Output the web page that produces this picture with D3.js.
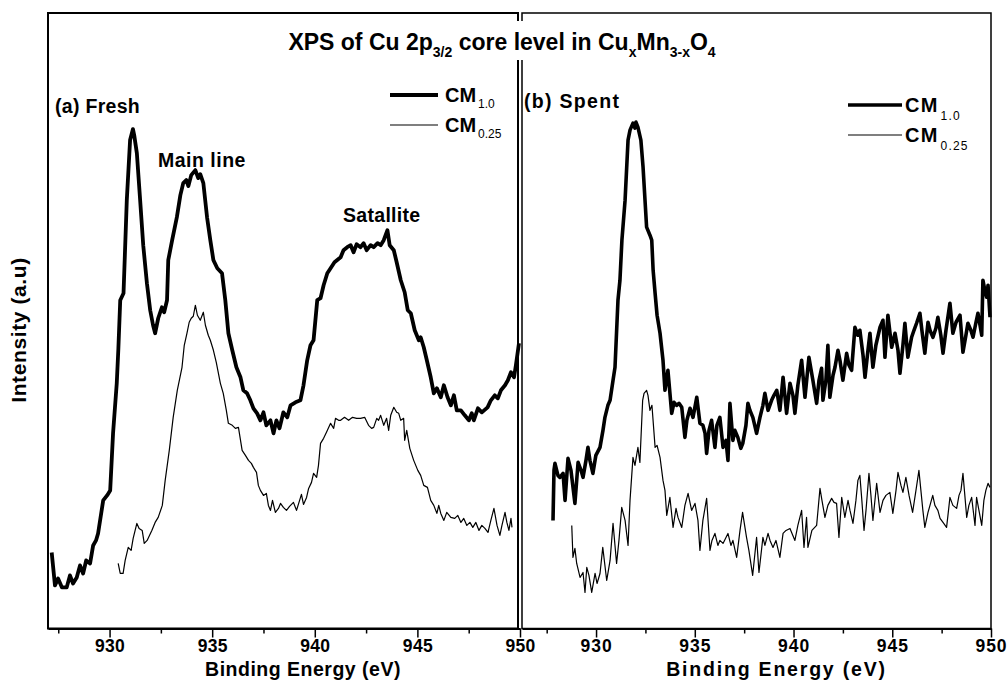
<!DOCTYPE html>
<html><head><meta charset="utf-8">
<script src="https://cdn.jsdelivr.net/npm/d3@7"></script>
<style>body{margin:0;background:#fff}svg{display:block}</style>
</head><body>
<svg id="c" width="1008" height="687"></svg>
<script>
// ---------- data (binding energy eV, intensity a.u.) ----------
const majorTicks = [930, 935, 940, 945, 950];
const minorTicks = [927.5, 932.5, 937.5, 942.5, 947.5];
const seriesNames = ["CM", "CM"];
const seriesSubs = ["1.0", "0.25"];

const freshCM10 = [[927.18,76],[927.34,43],[927.49,50],[927.68,41],[927.91,41],[928.07,53],[928.22,45],[928.40,51],[928.56,63],[928.71,55],[928.86,68],[929.05,65],[929.20,83],[929.34,88],[929.44,95],[929.69,128],[929.88,133],[930.03,138],[930.17,195],[930.35,245],[930.43,280],[930.52,328],[930.68,335],[930.84,428],[931.00,488],[931.14,499],[931.20,493],[931.33,475],[931.49,428],[931.64,383],[931.82,345],[931.98,318],[932.12,303],[932.22,295],[932.37,310],[932.55,321],[932.66,316],[932.80,328],[932.86,368],[933.05,388],[933.28,411],[933.45,433],[933.59,445],[933.74,448],[933.84,442],[933.98,453],[934.18,458],[934.32,450],[934.42,454],[934.57,445],[934.75,411],[934.91,388],[935.06,368],[935.25,360],[935.48,355],[935.64,328],[935.79,295],[935.98,278],[936.18,261],[936.38,251],[936.52,238],[936.70,235],[936.86,228],[937.01,220],[937.19,215],[937.35,208],[937.50,216],[937.64,203],[937.84,208],[937.99,195],[938.13,208],[938.28,200],[938.47,216],[938.66,211],[938.82,223],[939.06,226],[939.30,228],[939.45,243],[939.63,268],[939.79,283],[939.94,288],[940.12,328],[940.28,330],[940.43,343],[940.61,355],[940.77,360],[940.96,366],[941.26,371],[941.40,378],[941.58,381],[941.75,383],[941.89,376],[942.04,384],[942.23,381],[942.38,385],[942.53,378],[942.72,383],[942.87,381],[943.06,385],[943.21,383],[943.36,388],[943.54,398],[943.65,383],[943.85,378],[943.99,366],[944.19,348],[944.38,336],[944.53,318],[944.68,315],[944.87,298],[945.07,288],[945.16,291],[945.31,281],[945.46,268],[945.65,251],[945.80,235],[945.95,240],[946.14,231],[946.29,243],[946.47,231],[946.63,223],[946.78,233],[946.92,218],[947.12,218],[947.31,213],[947.51,208],[947.65,215],[947.75,208],[947.95,220],[948.14,216],[948.42,221],[948.58,228],[948.77,233],[948.92,230],[949.07,238],[949.27,243],[949.41,248],[949.56,256],[949.71,251],[949.80,263],[949.95,285]];

const freshCM025 = [[930.42,65],[930.52,55],[930.66,55],[930.76,68],[930.91,81],[931.05,78],[931.15,90],[931.33,105],[931.44,100],[931.59,98],[931.69,85],[931.83,88],[932.06,98],[932.22,106],[932.37,111],[932.57,123],[932.71,148],[932.91,178],[933.10,211],[933.30,238],[933.53,261],[933.64,283],[933.77,295],[933.88,306],[933.98,310],[934.08,312],[934.18,323],[934.28,313],[934.42,308],[934.57,316],[934.67,303],[934.81,293],[934.91,288],[935.06,278],[935.20,266],[935.40,245],[935.54,235],[935.69,218],[935.79,205],[935.98,203],[936.13,200],[936.28,201],[936.46,178],[936.62,173],[936.77,168],[936.91,165],[937.01,161],[937.16,156],[937.25,143],[937.35,138],[937.50,133],[937.64,135],[937.74,123],[937.84,118],[937.94,128],[938.08,116],[938.23,120],[938.33,125],[938.47,121],[938.62,118],[938.77,122],[938.96,126],[939.11,118],[939.26,128],[939.35,134],[939.45,124],[939.60,131],[939.70,140],[939.84,146],[939.94,155],[940.09,151],[940.18,163],[940.28,185],[940.43,190],[940.57,196],[940.77,205],[940.92,200],[941.01,210],[941.16,208],[941.26,208],[941.45,211],[941.65,208],[941.84,211],[942.04,210],[942.23,210],[942.43,211],[942.62,203],[942.77,200],[942.87,201],[943.02,210],[943.11,208],[943.21,213],[943.36,203],[943.50,210],[943.60,198],[943.70,213],[943.85,221],[943.99,216],[944.09,215],[944.19,208],[944.33,210],[944.38,188],[944.48,198],[944.63,180],[944.82,168],[945.02,158],[945.16,153],[945.31,143],[945.49,141],[945.65,128],[945.80,123],[945.95,115],[946.04,123],[946.14,115],[946.29,108],[946.43,116],[946.63,111],[946.82,110],[946.97,113],[947.12,106],[947.26,110],[947.41,103],[947.56,106],[947.70,101],[947.85,106],[948.00,98],[948.14,103],[948.29,100],[948.44,96],[948.58,108],[948.73,120],[948.88,103],[949.02,93],[949.12,103],[949.27,116],[949.36,106],[949.46,98],[949.56,110],[949.61,101]];

const spentCM10 = [[927.82,108],[927.87,158],[927.92,165],[928.07,153],[928.17,151],[928.33,155],[928.43,128],[928.58,170],[928.73,158],[928.93,125],[929.09,166],[929.24,158],[929.34,151],[929.49,168],[929.59,181],[929.69,168],[929.84,155],[929.99,173],[930.20,181],[930.35,198],[930.45,211],[930.60,223],[930.71,228],[930.86,248],[930.96,261],[931.11,328],[931.21,348],[931.31,388],[931.47,428],[931.62,488],[931.72,498],[931.87,505],[931.97,500],[932.02,506],[932.12,501],[932.27,488],[932.38,461],[932.56,401],[932.73,393],[932.82,388],[932.89,358],[932.99,335],[933.09,313],[933.24,295],[933.39,268],[933.49,238],[933.64,258],[933.83,215],[933.95,226],[934.08,223],[934.20,225],[934.34,221],[934.50,191],[934.60,208],[934.76,220],[934.91,211],[935.10,231],[935.26,205],[935.41,203],[935.52,195],[935.60,175],[935.72,198],[935.85,208],[936.02,181],[936.12,203],[936.27,211],[936.43,181],[936.58,188],[936.68,168],[936.78,225],[936.93,188],[937.03,198],[937.18,191],[937.33,180],[937.43,185],[937.59,203],[937.69,225],[937.79,218],[937.94,211],[938.13,195],[938.30,211],[938.45,223],[938.55,235],[938.71,218],[938.89,228],[939.01,233],[939.15,238],[939.31,218],[939.47,251],[939.65,215],[939.82,245],[939.97,233],[940.07,215],[940.22,243],[940.41,268],[940.58,231],[940.78,271],[940.98,248],[941.17,225],[941.29,248],[941.42,260],[941.49,228],[941.64,248],[941.74,283],[941.84,231],[942.00,253],[942.10,261],[942.25,278],[942.35,268],[942.50,248],[942.69,275],[942.81,263],[942.94,258],[943.11,301],[943.26,293],[943.36,298],[943.52,273],[943.62,251],[943.77,278],[943.87,295],[944.02,261],[944.17,283],[944.38,301],[944.53,308],[944.63,271],[944.78,313],[944.97,281],[945.14,295],[945.29,278],[945.39,255],[945.54,283],[945.64,305],[945.79,271],[945.98,291],[946.10,298],[946.23,305],[946.40,315],[946.50,298],[946.65,275],[946.81,306],[946.91,298],[947.06,291],[947.21,300],[947.31,311],[947.46,293],[947.57,275],[947.72,298],[947.92,325],[948.07,295],[948.23,306],[948.43,313],[948.58,276],[948.73,293],[948.83,305],[948.98,298],[949.09,291],[949.24,306],[949.34,315],[949.53,293],[949.59,348],[949.69,338],[949.78,331],[949.85,343],[949.95,311]];

const spentCM025 = [[928.77,103],[928.83,71],[928.93,80],[929.02,65],[929.19,51],[929.34,56],[929.44,36],[929.53,61],[929.64,53],[929.78,36],[929.95,55],[930.05,45],[930.20,55],[930.34,81],[930.54,48],[930.71,68],[930.86,105],[931.04,65],[931.16,88],[931.30,121],[931.47,108],[931.62,83],[931.72,128],[931.87,171],[931.97,163],[932.12,181],[932.22,166],[932.36,228],[932.43,235],[932.56,238],[932.63,233],[932.73,218],[932.83,223],[932.99,181],[933.09,183],[933.24,171],[933.39,148],[933.49,138],[933.58,113],[933.74,131],[933.90,101],[934.05,120],[934.15,111],[934.34,101],[934.50,123],[934.66,135],[934.84,118],[935.01,125],[935.16,108],[935.26,78],[935.41,108],[935.60,130],[935.77,78],[935.87,88],[936.02,95],[936.17,83],[936.27,88],[936.43,85],[936.58,91],[936.68,95],[936.83,83],[936.93,88],[937.12,71],[937.29,98],[937.42,116],[937.62,91],[937.74,78],[937.93,53],[938.13,91],[938.25,56],[938.45,91],[938.55,83],[938.71,95],[938.81,88],[938.96,81],[939.11,88],[939.31,71],[939.47,95],[939.62,98],[939.82,100],[940.07,88],[940.22,103],[940.41,118],[940.53,81],[940.66,111],[940.73,81],[940.93,98],[941.17,103],[941.34,140],[941.44,128],[941.59,111],[941.74,123],[941.93,130],[942.05,126],[942.18,125],[942.30,91],[942.44,131],[942.60,111],[942.76,128],[942.86,118],[943.01,105],[943.16,128],[943.26,148],[943.36,153],[943.46,128],[943.57,98],[943.67,118],[943.82,155],[943.92,133],[944.02,108],[944.21,145],[944.38,116],[944.53,128],[944.68,133],[944.88,136],[945.03,115],[945.19,138],[945.29,156],[945.44,143],[945.54,136],[945.69,151],[945.85,133],[946.03,116],[946.20,138],[946.35,158],[946.45,138],[946.55,118],[946.65,101],[946.81,116],[946.91,123],[947.05,133],[947.16,123],[947.31,118],[947.42,110],[947.57,106],[947.75,101],[947.82,113],[947.92,131],[948.07,123],[948.26,120],[948.38,133],[948.48,138],[948.58,155],[948.77,111],[948.88,123],[949.02,131],[949.19,103],[949.27,131],[949.39,118],[949.53,103],[949.64,128],[949.74,138],[949.85,145],[949.95,141]];

// ---------- drawing ----------
const FONT = "'Liberation Sans', Arial, Helvetica, sans-serif";
const svg = d3.select("#c");
const yTop = 13, yBot = 628.5;
const y = d3.scaleLinear().domain([0, 615]).range([yBot, yTop]);

const panels = [
  {x0: 48, x1: 518, sx: d3.scaleLinear().domain([927, 950]).range([48, 520]),
   s1: freshCM10, s2: freshCM025, border: 2, ls: 0, w1: 3.8},
  {x0: 522, x1: 991, sx: d3.scaleLinear().domain([926.25, 950]).range([522, 991]),
   s1: spentCM10, s2: spentCM025, border: 1.5, ls: 1.3, w1: 3.6}
];

panels.forEach((p, i) => {
  const g = svg.append("g");
  const line = d3.line().x(d => p.sx(d[0])).y(d => y(d[1]));
  g.append("path").datum(p.s2).attr("d", line).attr("fill", "none")
    .attr("stroke", "#000").attr("stroke-width", 1.2).attr("stroke-linejoin", "round");
  g.append("path").datum(p.s1).attr("d", line).attr("fill", "none")
    .attr("stroke", "#000").attr("stroke-width", p.w1).attr("stroke-linejoin", "round");

  // frame
  g.append("rect").attr("x", p.x0).attr("y", yTop).attr("width", p.x1 - p.x0)
    .attr("height", yBot - yTop).attr("fill", "none").attr("stroke", "#000")
    .attr("stroke-width", p.border);

  // axes
  const ax = g.append("g").attr("transform", `translate(0,${yBot})`)
    .call(d3.axisBottom(p.sx).tickValues(majorTicks).tickSize(9).tickSizeOuter(0).tickPadding(2).tickFormat(d3.format("d")));
  ax.select(".domain").attr("stroke-width", 2);
  ax.selectAll(".tick line").attr("stroke-width", 1.5);
  ax.selectAll("text").attr("font-family", FONT).attr("font-size", 17.5).attr("font-weight", "bold")
    .style("letter-spacing", p.ls ? "1px" : "0.3px").attr("fill", "#000");
  const mx = g.append("g").attr("transform", `translate(0,${yBot})`)
    .call(d3.axisBottom(p.sx).tickValues(minorTicks).tickSize(5).tickSizeOuter(0).tickFormat(""));
  mx.select(".domain").remove();
  mx.selectAll(".tick line").attr("stroke-width", 1.5);

  // x-axis title
  g.append("text").attr("x", (p.x0 + p.x1) / 2 + 20).attr("y", 676)
    .attr("text-anchor", "middle").attr("font-family", FONT).attr("font-size", 19.5)
    .attr("font-weight", "bold").style("letter-spacing", i ? "1.8px" : "0.5px")
    .text("Binding Energy (eV)");

  // legend
  const L = i === 0 ? {lx0: 390, lx1: 438, ly1: 95, ly2: 125, tx: 445, tb1: 102, tb2: 132}
                    : {lx0: 848, lx1: 902, ly1: 105, ly2: 135, tx: 905, tb1: 112, tb2: 142};
  [[L.ly1, p.w1, L.tb1, 0], [L.ly2, 1.2, L.tb2, 1]].forEach(([ly, w, tb, k]) => {
    g.append("line").attr("x1", L.lx0).attr("x2", L.lx1).attr("y1", ly).attr("y2", ly)
      .attr("stroke", "#000").attr("stroke-width", w);
    const t = g.append("text").attr("x", L.tx).attr("y", tb).attr("font-family", FONT)
      .attr("font-weight", "bold").attr("font-size", 20).style("letter-spacing", p.ls ? "1.2px" : "0px");
    t.append("tspan").text(seriesNames[k]);
    t.append("tspan").attr("dy", i ? 8 : 6).attr("dx", 2).attr("font-size", 12)
      .attr("font-weight", "normal").text(seriesSubs[k]);
  });
});

// annotations
function lab(x, yb, s, ls) {
  svg.append("text").attr("x", x).attr("y", yb).attr("font-family", FONT)
    .attr("font-size", 19.5).attr("font-weight", "bold").style("letter-spacing", ls + "px").text(s);
}
lab(55, 113, "(a) Fresh", 0.3);
lab(158, 167, "Main line", 0.5);
lab(343, 222, "Satallite", 0.3);
lab(524, 108, "(b) Spent", 1.3);

// y-axis title
svg.append("text").attr("transform", "translate(26,330) rotate(-90)")
  .attr("text-anchor", "middle").attr("font-family", FONT).attr("font-size", 21)
  .attr("font-weight", "bold").style("letter-spacing", "0.6px").text("Intensity (a.u)");

// title with white backing (interrupts panel divider)
svg.append("rect").attr("x", 283).attr("y", 21).attr("width", 440).attr("height", 39).attr("fill", "#fff");
const T = svg.append("text").attr("x", 502).attr("y", 50).attr("text-anchor", "middle")
  .attr("font-family", FONT).attr("font-size", 23).attr("font-weight", "bold");
const parts = [["XPS of Cu 2p", 0], ["3/2", 1], [" core level in Cu", 0], ["x", 1], ["Mn", 0], ["3-x", 1], ["O", 0], ["4", 1]];
let down = false;
parts.forEach(([s, sub]) => {
  const ts = T.append("tspan").text(s);
  if (sub && !down) { ts.attr("dy", 7).attr("font-size", 14); down = true; }
  else if (sub) { ts.attr("font-size", 14); }
  else if (down) { ts.attr("dy", -7); down = false; }
});
</script>
</body></html>
